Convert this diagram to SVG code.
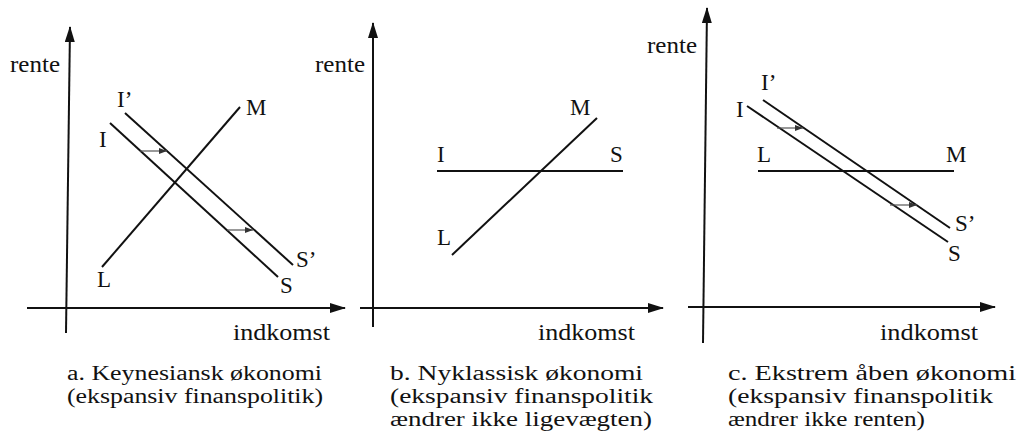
<svg xmlns="http://www.w3.org/2000/svg" width="1018" height="441" viewBox="0 0 1018 441">
<style>
.ax{stroke:#111;stroke-width:2;fill:none}
.ln{stroke:#111;stroke-width:2;fill:none}
.sh{stroke:#555;stroke-width:1.2;fill:none}
text{font-family:"Liberation Serif","Times New Roman",serif;fill:#111}
.lb{font-size:23px}
.rt{font-size:24px}
.cap{font-size:20.5px}
</style>
<defs>
<marker id="ah" markerWidth="16" markerHeight="10" refX="15" refY="5" orient="auto" markerUnits="userSpaceOnUse">
<path d="M0,0 L16,5 L0,10 Z" fill="#111"/>
</marker>
<marker id="sa" markerWidth="8" markerHeight="6" refX="8" refY="3" orient="auto" markerUnits="userSpaceOnUse">
<path d="M0,0 L8,3 L0,6 Z" fill="#333"/>
</marker>
</defs>
<rect width="1018" height="441" fill="#fff"/>

<g id="panel-a">
<g id="axes-a">
<line class="ax" x1="66" y1="333" x2="70" y2="27" marker-end="url(#ah)"/>
<line class="ax" x1="27" y1="308" x2="345" y2="308" marker-end="url(#ah)"/>
</g>
<text class="rt" x="10" y="72" textLength="50" lengthAdjust="spacingAndGlyphs">rente</text>
<text class="rt" x="233" y="340" textLength="97" lengthAdjust="spacingAndGlyphs">indkomst</text>
<g id="a-lines">
<line class="ln" x1="125" y1="113" x2="293" y2="265"/>
<line class="ln" x1="110" y1="123" x2="278" y2="277"/>
<line class="ln" x1="102" y1="267" x2="240" y2="107"/>
<line class="sh" x1="140" y1="151" x2="167" y2="151" marker-end="url(#sa)"/>
<line class="sh" x1="227" y1="230" x2="253" y2="230" marker-end="url(#sa)"/>
</g>
<text class="lb" x="117" y="107">I’</text>
<text class="lb" x="99" y="147">I</text>
<text class="lb" x="246" y="115">M</text>
<text class="lb" x="97" y="287">L</text>
<text class="lb" x="296" y="267">S’</text>
<text class="lb" x="280" y="293">S</text>
<text class="cap" x="67" y="380" textLength="255" lengthAdjust="spacingAndGlyphs">a. Keynesiansk økonomi</text>
<text class="cap" x="67" y="403" textLength="256" lengthAdjust="spacingAndGlyphs">(ekspansiv finanspolitik)</text>
</g>

<g id="panel-b">
<g id="axes-b">
<line class="ax" x1="373" y1="327" x2="373" y2="23" marker-end="url(#ah)"/>
<line class="ax" x1="360" y1="308" x2="663" y2="308" marker-end="url(#ah)"/>
</g>
<text class="rt" x="315" y="72" textLength="50" lengthAdjust="spacingAndGlyphs">rente</text>
<text class="rt" x="538" y="340" textLength="97" lengthAdjust="spacingAndGlyphs">indkomst</text>
<g id="b-lines">
<line class="ln" x1="437" y1="171" x2="623" y2="171"/>
<line class="ln" x1="452" y1="255" x2="597" y2="118"/>
</g>
<text class="lb" x="437" y="162">I</text>
<text class="lb" x="610" y="162">S</text>
<text class="lb" x="570" y="115">M</text>
<text class="lb" x="437" y="245">L</text>
<text class="cap" x="390" y="380" textLength="253" lengthAdjust="spacingAndGlyphs">b. Nyklassisk økonomi</text>
<text class="cap" x="390" y="403" textLength="263" lengthAdjust="spacingAndGlyphs">(ekspansiv finanspolitik</text>
<text class="cap" x="390" y="426" textLength="262" lengthAdjust="spacingAndGlyphs">ændrer ikke ligevægten)</text>
</g>

<g id="panel-c">
<g id="axes-c">
<line class="ax" x1="703" y1="343" x2="707" y2="8" marker-end="url(#ah)"/>
<line class="ax" x1="688" y1="307" x2="995" y2="307" marker-end="url(#ah)"/>
</g>
<text class="rt" x="647" y="53" textLength="50" lengthAdjust="spacingAndGlyphs">rente</text>
<text class="rt" x="880" y="340" textLength="98" lengthAdjust="spacingAndGlyphs">indkomst</text>
<g id="c-lines">
<line class="ln" x1="763" y1="100" x2="950" y2="228"/>
<line class="ln" x1="747" y1="106" x2="948" y2="242"/>
<line class="ln" x1="758" y1="171" x2="954" y2="171"/>
<line class="sh" x1="777" y1="128" x2="803" y2="128" marker-end="url(#sa)"/>
<line class="sh" x1="890" y1="205" x2="917" y2="205" marker-end="url(#sa)"/>
</g>
<text class="lb" x="761" y="90">I’</text>
<text class="lb" x="736" y="117">I</text>
<text class="lb" x="757" y="162">L</text>
<text class="lb" x="946" y="162">M</text>
<text class="lb" x="955" y="231">S’</text>
<text class="lb" x="948" y="261">S</text>
<text class="cap" x="728" y="380" textLength="288" lengthAdjust="spacingAndGlyphs">c. Ekstrem åben økonomi</text>
<text class="cap" x="728" y="403" textLength="265" lengthAdjust="spacingAndGlyphs">(ekspansiv finanspolitik</text>
<text class="cap" x="728" y="426" textLength="197" lengthAdjust="spacingAndGlyphs">ændrer ikke renten)</text>
</g>
</svg>
